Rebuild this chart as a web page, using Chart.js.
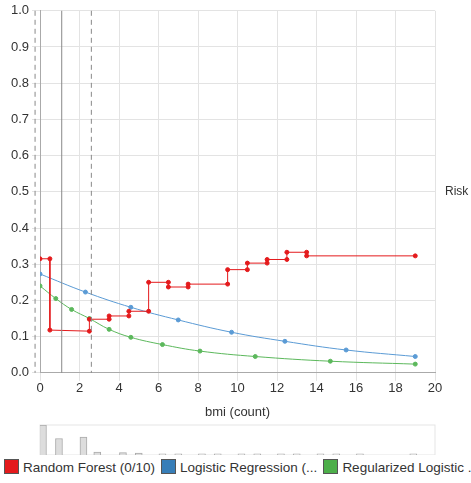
<!DOCTYPE html><html><head><script src="https://cdn.jsdelivr.net/npm/chart.js"></script>
<style>body{margin:0;background:#fff;font-family:"Helvetica","Liberation Sans",Arial,sans-serif}
#lg{position:absolute;top:459px;left:4px;font-size:13.5px;color:#333;white-space:nowrap}
#lg span{display:inline-block;margin-right:6px}#lg i{display:inline-block;width:13px;height:13px;border:1px solid #555;vertical-align:-2px;margin-right:4px}</style></head><body>
<div style="position:absolute;left:0;top:0;width:471px;height:420px"><canvas id="c"></canvas></div>
<div style="position:absolute;left:0;top:423px;width:471px;height:32px"><canvas id="h"></canvas></div>
<div id="lg"><span><i style="background:#e41a1c"></i>Random Forest (0/10)</span><span><i style="background:#377eb8"></i>Logistic Regression (...</span><span><i style="background:#4daf4a"></i>Regularized Logistic ...</span></div>
<script>
const rfX=[0,0.5,0.5,2.5,2.5,3.5,3.5,4.5,4.5,5.5,5.5,6.5,6.5,7.5,7.5,9.5,9.5,10.5,10.5,11.5,11.5,12.5,12.5,13.5,13.5,19];
const rfY=[0.315,0.315,0.118,0.115,0.148,0.148,0.157,0.157,0.17,0.17,0.25,0.25,0.237,0.237,0.245,0.245,0.285,0.285,0.303,0.303,0.313,0.313,0.333,0.333,0.323,0.323];
const lrX=[0,2.3,4.6,7,9.7,12.4,15.5,19];
const lrY=[0.273,0.223,0.181,0.146,0.112,0.087,0.063,0.045];
const rlX=[0,0.8,1.6,2.5,3.5,4.6,6.2,8.1,10.9,14.7,19];
const rlY=[0.24,0.205,0.175,0.15,0.12,0.098,0.078,0.06,0.045,0.032,0.024];
const vLines=[{x:-0.25,dash:[5,4]},{x:1.1,dash:[]},{x:2.6,dash:[5,4]}];
const hX=[0.15,0.96,2.2,2.9,4.2,5,6.2,7,8.2,9,10.2,11,12.2,13,14.2,15,16.2,18.9];
const hY=[1,0.55,0.6,0.1,0.08,0.06,0.04,0.04,0.04,0.04,0.04,0.04,0.04,0.04,0.04,0.04,0.04,0.04];
const pts=(xs,ys)=>xs.map((x,i)=>({x,y:ys[i]}));
const vl={id:'vl',afterDatasetsDraw(ch){const c=ch.ctx,xs=ch.scales.x,a=ch.chartArea;c.save();c.strokeStyle='#888';c.lineWidth=1;
vLines.forEach(v=>{c.setLineDash(v.dash);const p=xs.getPixelForValue(v.x);c.beginPath();c.moveTo(p,a.top);c.lineTo(p,a.bottom);c.stroke();});
c.setLineDash([]);c.fillStyle='#333';c.font='12px Helvetica, "Liberation Sans", Arial';c.textAlign='left';c.textBaseline='middle';c.fillText('Risk',a.right+10,(a.top+a.bottom)/2);c.restore();}};
const ds=(l,d,col,t)=>({label:l,data:d,borderColor:col,backgroundColor:col,borderWidth:1,pointRadius:2,tension:t});
new Chart(document.getElementById('c'),{type:'line',data:{datasets:[ds('RF',pts(rfX,rfY),'#e41a1c',0),ds('LR',pts(lrX,lrY),'#5b9bd5',0.4),ds('RL',pts(rlX,rlY),'#5cb85c',0.4)]},
options:{animation:false,responsive:true,maintainAspectRatio:false,layout:{padding:{left:0,right:36,top:2,bottom:0}},plugins:{legend:{display:false},tooltip:{enabled:false}},
scales:{x:{type:'linear',min:0,max:20,ticks:{stepSize:2,color:'#333',font:{size:13},padding:0},grid:{color:'#e3e3e3'},border:{color:'#aaa'},title:{display:true,text:'bmi (count)',color:'#333',font:{size:13},padding:{top:8,bottom:0}}},
y:{min:0,max:1,afterFit(s){s.width=40;},ticks:{stepSize:0.1,color:'#333',font:{size:13},callback:v=>v.toFixed(1)},grid:{color:'#e3e3e3'},border:{color:'#aaa'}}}},plugins:[vl]});
const box={id:'box',beforeDatasetsDraw(ch){const c=ch.ctx,a=ch.chartArea;c.save();c.strokeStyle='#e5e5e5';c.strokeRect(a.left,a.top,a.right-a.left,a.bottom-a.top);c.restore();}};
new Chart(document.getElementById('h'),{type:'bar',data:{datasets:[{data:pts(hX,hY),backgroundColor:'#ddd',borderColor:'#aaa',borderWidth:1,barThickness:7}]},
options:{animation:false,responsive:true,maintainAspectRatio:false,layout:{padding:{left:40,right:36,top:2,bottom:0}},plugins:{legend:{display:false},tooltip:{enabled:false}},
scales:{x:{type:'linear',offset:false,min:0,max:20,display:false},y:{min:0,max:1,display:false}}},plugins:[box]});
</script></body></html>
